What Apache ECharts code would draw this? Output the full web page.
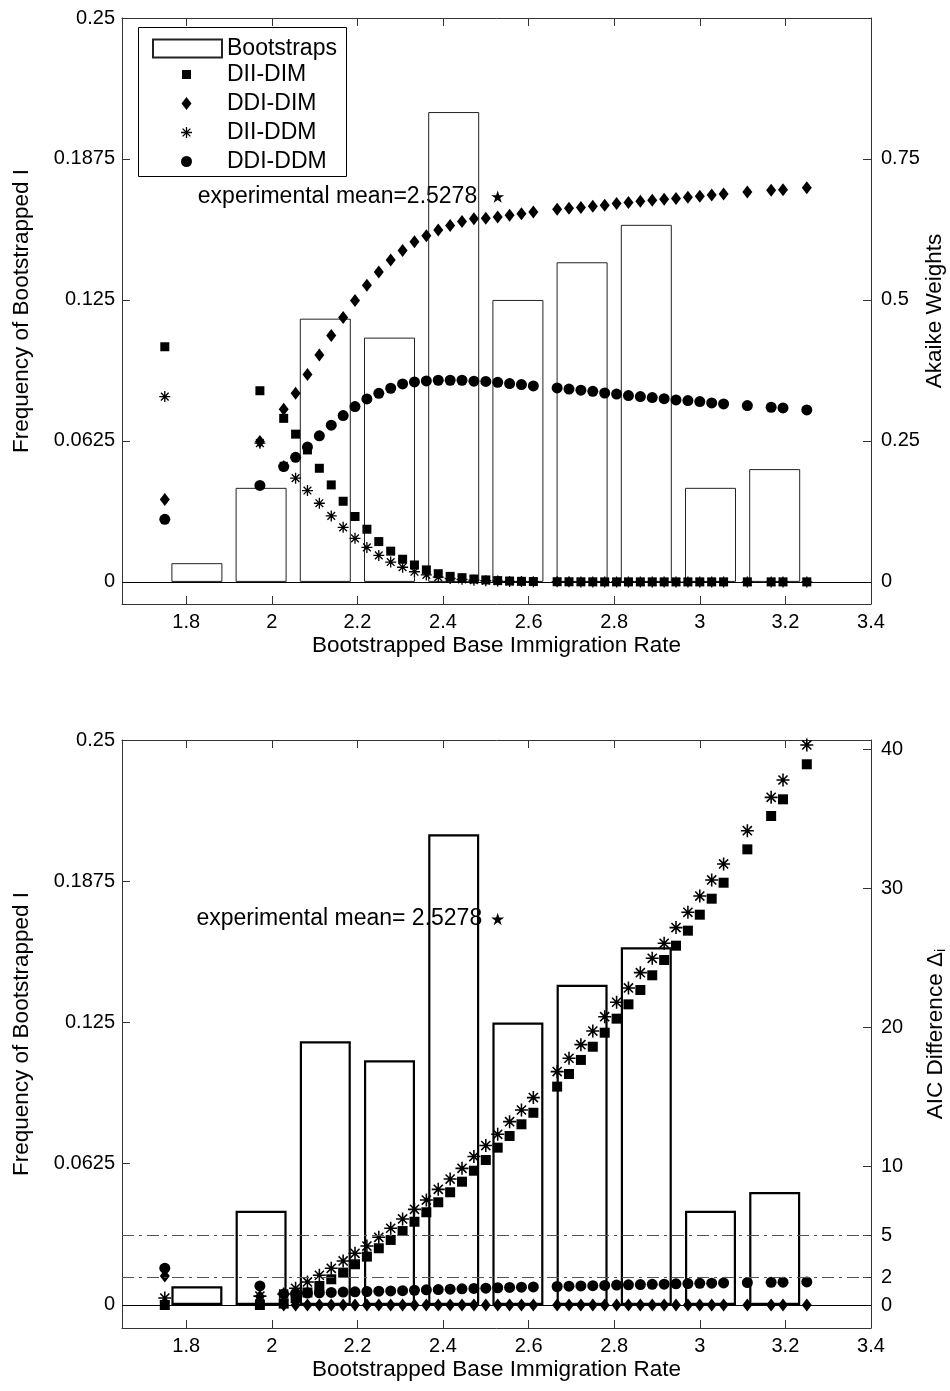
<!DOCTYPE html>
<html><head><meta charset="utf-8">
<script src="https://cdn.jsdelivr.net/npm/echarts@6/dist/echarts.min.js"></script>
<style>html,body{margin:0;padding:0;background:#fff}#c{width:950px;height:1391px}</style>
</head><body><div id="c"></div>
<script>
// ---------- data ----------
const bootCenters = [1.825, 1.975, 2.125, 2.275, 2.425, 2.575, 2.725, 2.875, 3.025, 3.175];
const bootFreq = [0.0083, 0.0417, 0.1167, 0.1083, 0.2083, 0.125, 0.1417, 0.1583, 0.0417, 0.05];

const xVals = [1.75, 1.9722, 2.0278, 2.0556, 2.0833, 2.1111, 2.1389, 2.1667, 2.1944, 2.2222,
  2.25, 2.2778, 2.3056, 2.3333, 2.3611, 2.3889, 2.4167, 2.4444, 2.4722, 2.5,
  2.5278, 2.5556, 2.5833, 2.6111, 2.6667, 2.6944, 2.7222, 2.75, 2.7778, 2.8056,
  2.8333, 2.8611, 2.8889, 2.9167, 2.9444, 2.9722, 3.0, 3.0278, 3.0556, 3.1111,
  3.1667, 3.1944, 3.25];

// Akaike weights (top panel)
const wDIIDIM = [0.417, 0.339, 0.290, 0.262, 0.234, 0.2015, 0.172, 0.143, 0.116, 0.0934,
  0.0715, 0.0545, 0.0402, 0.030, 0.0213, 0.0145, 0.0098, 0.0075, 0.0051, 0.0035,
  0.0023, 0.0015, 0.001, 0.0006, 0.0003, 0.0002, 0.0001, 0.0001, 0, 0,
  0, 0, 0, 0, 0, 0, 0, 0, 0, 0, 0, 0, 0];
const wDDIDIM = [0.146, 0.249, 0.306, 0.3345, 0.368, 0.4025, 0.437, 0.469, 0.499, 0.526,
  0.5496, 0.571, 0.5875, 0.603, 0.614, 0.624, 0.632, 0.639, 0.644, 0.645,
  0.647, 0.650, 0.653, 0.656, 0.661, 0.6625, 0.664, 0.666, 0.668, 0.671,
  0.673, 0.675, 0.677, 0.6785, 0.680, 0.682, 0.684, 0.686, 0.688, 0.6915,
  0.6945, 0.6956, 0.699];
const wDIIDDM = [0.3286, 0.246, 0.2057, 0.184, 0.162, 0.1395, 0.117, 0.0967, 0.0772, 0.0612,
  0.047, 0.0352, 0.026, 0.018, 0.0124, 0.0083, 0.006, 0.0045, 0.003, 0.002,
  0.0014, 0.0009, 0.0006, 0.0004, 0.0002, 0.0001, 0, 0, 0, 0,
  0, 0, 0, 0, 0, 0, 0, 0, 0, 0, 0, 0, 0];
const wDDIDDM = [0.111, 0.171, 0.2045, 0.221, 0.239, 0.259, 0.278, 0.295, 0.311, 0.3245,
  0.3345, 0.3434, 0.351, 0.3546, 0.3564, 0.3576, 0.3576, 0.3576, 0.356, 0.3555,
  0.354, 0.3517, 0.350, 0.3475, 0.344, 0.342, 0.340, 0.338, 0.335, 0.333,
  0.3304, 0.3286, 0.3268, 0.325, 0.3227, 0.3215, 0.3197, 0.3174, 0.3156, 0.3126,
  0.3097, 0.3085, 0.305];

// AIC differences (bottom panel)
const dDIIDIM = [0, 0, 0.10, 0.49, 0.90, 1.37, 1.85, 2.33, 2.93, 3.48,
  4.08, 4.68, 5.32, 5.99, 6.67, 7.39, 8.11, 8.87, 9.66, 10.43,
  11.32, 12.16, 13.0, 13.83, 15.71, 16.62, 17.63, 18.58, 19.59, 20.60,
  21.63, 22.66, 23.72, 24.82, 25.85, 26.93, 28.08, 29.23, 30.38, 32.78,
  35.18, 36.38, 38.9];
const dDDIDIM = [2.09, 0.62, 0, 0, 0, 0, 0, 0, 0, 0,
  0, 0, 0, 0, 0, 0, 0, 0, 0, 0,
  0, 0, 0, 0, 0, 0, 0, 0, 0, 0,
  0, 0, 0, 0, 0, 0, 0, 0, 0, 0, 0, 0, 0];
const dDIIDDM = [0.5, 0.64, 0.79, 1.20, 1.66, 2.14, 2.64, 3.17, 3.72, 4.24,
  4.87, 5.52, 6.19, 6.88, 7.55, 8.32, 9.06, 9.83, 10.68, 11.47,
  12.28, 13.19, 14.03, 14.92, 16.79, 17.75, 18.73, 19.71, 20.74, 21.78,
  22.81, 23.91, 24.94, 26.02, 27.15, 28.25, 29.42, 30.58, 31.73, 34.12,
  36.52, 37.77, 40.29];
const dDDIDDM = [2.65, 1.37, 0.80, 0.83, 0.86, 0.88, 0.90, 0.93, 0.95, 0.97,
  0.99, 1.01, 1.03, 1.06, 1.09, 1.11, 1.14, 1.16, 1.19, 1.21,
  1.24, 1.26, 1.28, 1.30, 1.33, 1.35, 1.37, 1.39, 1.41, 1.43,
  1.45, 1.47, 1.49, 1.50, 1.52, 1.54, 1.56, 1.57, 1.59, 1.61,
  1.63, 1.64, 1.66];

const meanPoint = [2.5278, 0.1708];
const meanTextTop = 'experimental mean=2.5278';
const meanTextBottom = 'experimental mean= 2.5278';
const thresholds = [2, 5];

const xTicks = [1.8, 2, 2.2, 2.4, 2.6, 2.8, 3, 3.2, 3.4];
const leftTicks = [0, 0.0625, 0.125, 0.1875, 0.25];
const rightTicksTop = [0, 0.25, 0.5, 0.75];
const rightTicksBottom = [0, 2, 5, 10, 20, 30, 40];

const names = ['DII-DIM', 'DDI-DIM', 'DII-DDM', 'DDI-DDM'];

// ---------- styles ----------
const FONT = 'Liberation Sans, Arial, sans-serif';
const AX = '#333';
const NAME_FS = 22.5;
const TICK_FS = 20;
const SQ = 'path://M0 0 L10 0 L10 10 L0 10 Z';
const DIA = 'path://M5 0 L10 6.5 L5 13 L0 6.5 Z';
const AST_BODY = 'M44 0 L56 0 L56 100 L44 100 Z M0 44 L100 44 L100 56 L0 56 Z ' +
  'M19.24 10.76 L89.24 80.76 L80.76 89.24 L10.76 19.24 Z ' +
  'M89.24 19.24 L19.24 89.24 L10.76 80.76 L80.76 10.76 Z';
const AST = 'path://' + AST_BODY;
const STAR = 'path://M50 0 L61.23 34.55 L97.55 34.55 L68.16 55.9 L79.39 90.45 L50 69.1 L20.61 90.45 L31.84 55.9 L2.45 34.55 L38.77 34.55 Z';
const symbols = [SQ, DIA, AST, 'circle'];
// legend icons: same shapes, padded inside a square frame so each keeps its own size
const legendIcons = [
  'path://M0 0 M13 13 M2 2 L11 2 L11 11 L2 11 Z',
  'path://M0 0 M13 13 M6.5 0 L11.5 6.5 L6.5 13 L1.5 6.5 Z',
  'path://M-9 -9 M109 109 ' + AST_BODY,
  'path://M0 0 M13 13 M1 6.5 A5.5 5.5 0 1 1 12 6.5 A5.5 5.5 0 1 1 1 6.5 Z'
];
const sizesTop = [9, [10, 13], 11, 11];
const sizesBot = [10, [10, 13], 13, 11];

const pts = ys => xVals.map((x, i) => [x, ys[i]]);
const bars = bootCenters.map((c, i) => [c, bootFreq[i]]);

function xAxes(gi, name) {
  const base = {
    type: 'value', gridIndex: gi, min: 1.65, max: 3.4,
    splitLine: { show: false },
    axisLine: { show: true, onZero: false, lineStyle: { color: AX, width: 1 } },
    axisTick: { show: true, inside: true, length: 8, customValues: xTicks, lineStyle: { color: AX } },
  };
  return [
    Object.assign({}, base, {
      position: 'bottom',
      axisLabel: { show: true, customValues: xTicks, margin: 8, color: '#000', fontSize: TICK_FS, fontFamily: FONT },
      name: name, nameLocation: 'middle', nameGap: 30, nameMoveOverlap: false,
      nameTextStyle: { color: '#000', fontSize: NAME_FS, fontFamily: FONT }
    }),
    Object.assign({}, base, { position: 'top', axisLabel: { show: false } })
  ];
}
function yAxisLeft(gi, min) {
  return {
    type: 'value', gridIndex: gi, position: 'left', min: min, max: 0.25,
    splitLine: { show: false },
    axisLine: { show: true, onZero: false, lineStyle: { color: AX, width: 1 } },
    axisTick: { show: true, inside: true, length: 8, customValues: leftTicks, lineStyle: { color: AX } },
    axisLabel: { customValues: leftTicks, margin: 7, color: '#000', fontSize: TICK_FS, fontFamily: FONT },
    name: 'Frequency of Bootstrapped I', nameLocation: 'middle', nameRotate: 90, nameGap: 89, nameMoveOverlap: false,
    nameTextStyle: { color: '#000', fontSize: NAME_FS, fontFamily: FONT }
  };
}
function yAxisRight(gi, min, max, ticks, name, rich) {
  const nts = { color: '#000', fontSize: NAME_FS, fontFamily: FONT };
  if (rich) nts.rich = rich;
  return {
    type: 'value', gridIndex: gi, position: 'right', min: min, max: max,
    splitLine: { show: false },
    axisLine: { show: true, onZero: false, lineStyle: { color: AX, width: 1 } },
    axisTick: { show: true, inside: true, length: 8, customValues: ticks, lineStyle: { color: AX } },
    axisLabel: { customValues: ticks, margin: 10, color: '#000', fontSize: TICK_FS, fontFamily: FONT },
    name: name, nameLocation: 'middle', nameRotate: 90, nameGap: 52, nameMoveOverlap: false,
    nameTextStyle: nts
  };
}

function starSeries(xi, yi, text, dist) {
  return {
    type: 'scatter', xAxisIndex: xi, yAxisIndex: yi, z: 1, silent: true,
    symbol: STAR, symbolSize: [13, 12.4], itemStyle: { color: '#000', opacity: 1 },
    data: [meanPoint],
    label: { show: true, position: 'left', distance: dist, formatter: text, color: '#000', opacity: 1, fontSize: 23, fontFamily: FONT }
  };
}
function barSeries(xi, yi, bw) {
  return {
    type: 'bar', name: 'Bootstraps', xAxisIndex: xi, yAxisIndex: yi, z: 2,
    barWidth: 51, data: bars,
    itemStyle: { color: 'rgba(255,255,255,0)', borderColor: bw > 1 ? '#000' : '#222', borderWidth: bw, opacity: 1 },
    markLine: {
      silent: true, symbol: 'none', label: { show: false },
      lineStyle: { color: '#000', width: 1.2, type: 'solid' },
      data: [{ yAxis: 0 }]
    }
  };
}
function pointSeries(xi, yi, sets, sizes) {
  return sets.map((ys, i) => ({
    type: 'scatter', name: names[i], xAxisIndex: xi, yAxisIndex: yi, z: 3,
    symbol: symbols[i], symbolSize: sizes[i],
    itemStyle: { color: '#000', opacity: 1 },
    data: pts(ys)
  }));
}

const bottomPoints = pointSeries(2, 3, [dDIIDIM, dDDIDIM, dDIIDDM, dDDIDDM], sizesBot);
bottomPoints[3].markLine = {
  silent: true, symbol: 'none', label: { show: false },
  lineStyle: { color: '#555', width: 1, type: [12, 5, 3, 5] },
  data: thresholds.map(t => ({ yAxis: t }))
};

const option = {
  animation: false,
  backgroundColor: '#fff',
  grid: [
    { left: 122, right: 79, top: 18, height: 586, containLabel: false, outerBoundsMode: 'none' },
    { left: 122, right: 79, top: 740, height: 588, containLabel: false, outerBoundsMode: 'none' }
  ],
  xAxis: [].concat(xAxes(0, 'Bootstrapped Base Immigration Rate'), xAxes(1, 'Bootstrapped Base Immigration Rate')),
  yAxis: [
    yAxisLeft(0, -0.0098),
    yAxisRight(0, -0.0392, 1.0, rightTicksTop, 'Akaike Weights'),
    yAxisLeft(1, -0.0102),
    yAxisRight(1, -1.655, 40.647, rightTicksBottom, 'AIC Difference Δ{s|i}',
      { s: { fontSize: 15, fontFamily: FONT, color: '#000', verticalAlign: 'top', padding: [10, 0, 0, 0] } })
  ],
  legend: [
    {
      data: [{ name: 'Bootstraps', icon: 'rect' }],
      orient: 'vertical', left: 152, top: 37, padding: 0,
      itemWidth: 69, itemHeight: 18, selectedMode: false,
      textStyle: { color: '#000', fontSize: 23, fontFamily: FONT }
    },
    {
      data: names.map((n, i) => ({ name: n, icon: legendIcons[i] })),
      orient: 'vertical', left: 180, top: 63, padding: 0,
      itemWidth: 71, itemHeight: 13, itemGap: 6, selectedMode: false,
      itemStyle: { color: '#000', opacity: 1 },
      textStyle: { color: '#000', fontSize: 23, fontFamily: FONT }
    }
  ],
  graphic: [{
    type: 'rect', left: 138, top: 27, z: 0, silent: true,
    shape: { width: 208, height: 149 },
    style: { fill: '#fff', stroke: '#000', lineWidth: 1 }
  }],
  series: [].concat(
    [starSeries(0, 0, meanTextTop, 14), barSeries(0, 0, 1)],
    pointSeries(0, 1, [wDIIDIM, wDDIDIM, wDIIDDM, wDDIDDM], sizesTop),
    [starSeries(2, 2, meanTextBottom, 9), barSeries(2, 2, 2.2)],
    bottomPoints
  )
};

const chart = echarts.init(document.getElementById('c'), null, { renderer: 'canvas' });
chart.setOption(option);
</script></body></html>
